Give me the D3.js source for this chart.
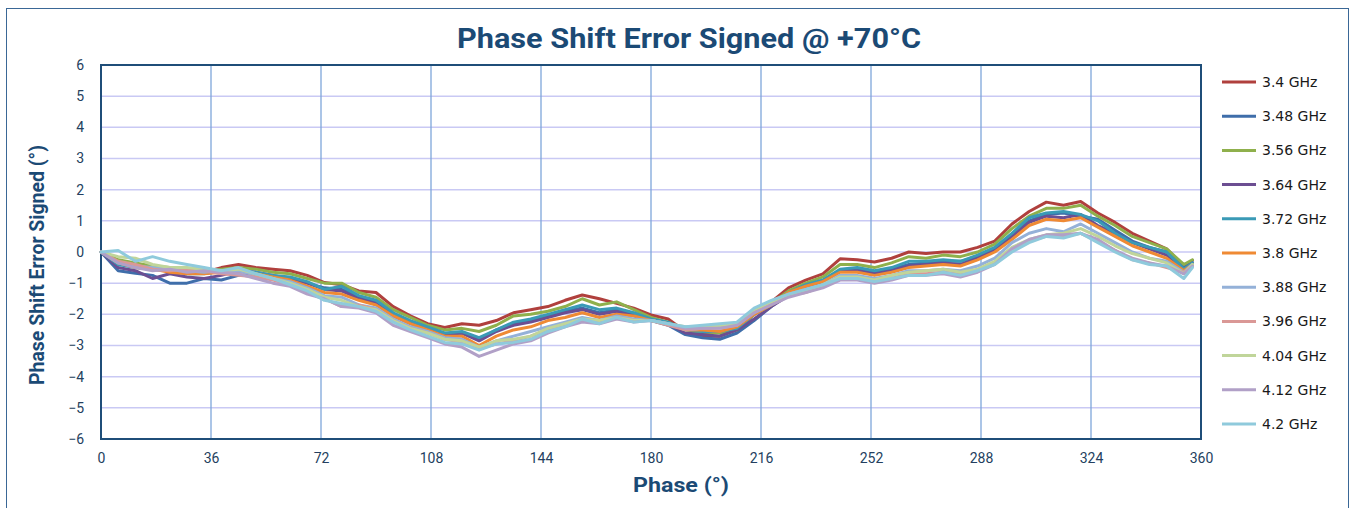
<!DOCTYPE html>
<html>
<head>
<meta charset="utf-8">
<script src="https://cdn.jsdelivr.net/npm/d3@7"></script>
<style>
  html, body { margin: 0; padding: 0; background: #fff; }
  #chart { width: 1355px; height: 508px; }
</style>
</head>
<body>
<div id="chart"></div>
<script>
// phase points (deg)
const phases = [0, 5.625, 11.25, 16.875, 22.5, 28.125, 33.75, 39.375, 45, 50.625,
  56.25, 61.875, 67.5, 73.125, 78.75, 84.375, 90, 95.625, 101.25, 106.875,
  112.5, 118.125, 123.75, 129.375, 135, 140.625, 146.25, 151.875, 157.5, 163.125,
  168.75, 174.375, 180, 185.625, 191.25, 196.875, 202.5, 208.125, 213.75, 219.375,
  225, 230.625, 236.25, 241.875, 247.5, 253.125, 258.75, 264.375, 270, 275.625,
  281.25, 286.875, 292.5, 298.125, 303.75, 309.375, 315, 320.625, 326.25, 331.875,
  337.5, 343.125, 348.75, 354.375, 357.2];

const f340 = [0, -0.3, -0.45, -0.55, -0.6, -0.6, -0.65, -0.5, -0.4, -0.5,
  -0.55, -0.6, -0.75, -0.98, -1.05, -1.25, -1.3, -1.75, -2.05, -2.3,
  -2.42, -2.3, -2.35, -2.2, -1.95, -1.85, -1.75, -1.55, -1.38, -1.5,
  -1.65, -1.8, -2.02, -2.15, -2.55, -2.7, -2.7, -2.5, -2.0, -1.6,
  -1.15, -0.9, -0.7, -0.22, -0.25, -0.32, -0.2, 0, -0.05, 0,
  0, 0.15, 0.35, 0.9, 1.3, 1.6, 1.5, 1.62, 1.25, 0.95,
  0.6, 0.35, 0.1, -0.45, -0.27];
const f348 = [0, -0.6, -0.68, -0.75, -1.0, -1.0, -0.85, -0.9, -0.75, -0.7,
  -0.8, -0.85, -1.0, -1.15, -1.2, -1.45, -1.6, -2.0, -2.25, -2.45,
  -2.65, -2.6, -2.8, -2.5, -2.3, -2.2, -2.05, -1.9, -1.8, -1.95,
  -1.85, -2.0, -2.2, -2.35, -2.65, -2.75, -2.8, -2.6, -2.2, -1.75,
  -1.35, -1.1, -0.95, -0.6, -0.55, -0.65, -0.55, -0.4, -0.35, -0.3,
  -0.3, -0.15, 0.1, 0.55, 1.0, 1.2, 1.25, 1.15, 1.05, 0.7,
  0.35, 0.15, 0, -0.5, -0.35];
const f356 = [0, -0.25, -0.35, -0.45, -0.5, -0.55, -0.65, -0.55, -0.5, -0.55,
  -0.65, -0.7, -0.85, -1.0, -1.0, -1.3, -1.45, -1.85, -2.1, -2.35,
  -2.5, -2.45, -2.55, -2.35, -2.05, -2.0, -1.9, -1.75, -1.5, -1.7,
  -1.6, -1.85, -2.1, -2.25, -2.55, -2.6, -2.6, -2.5, -2.0, -1.65,
  -1.25, -1.0, -0.8, -0.4, -0.4, -0.5, -0.35, -0.15, -0.2, -0.1,
  -0.15, 0, 0.25, 0.75, 1.15, 1.4, 1.4, 1.5, 1.15, 0.85,
  0.5, 0.3, 0.1, -0.4, -0.25];
const f364 = [0, -0.5, -0.6, -0.85, -0.7, -0.8, -0.85, -0.75, -0.6, -0.65,
  -0.75, -0.85, -1.0, -1.2, -1.25, -1.5, -1.65, -2.05, -2.3, -2.5,
  -2.65, -2.6, -2.85, -2.55, -2.35, -2.25, -2.1, -1.95, -1.85, -2.0,
  -1.9, -2.05, -2.2, -2.3, -2.6, -2.65, -2.7, -2.5, -2.15, -1.75,
  -1.4, -1.1, -0.95, -0.6, -0.6, -0.7, -0.6, -0.45, -0.4, -0.35,
  -0.4, -0.2, 0.05, 0.5, 0.95, 1.15, 1.1, 1.2, 0.85, 0.6,
  0.3, 0.1, -0.1, -0.55, -0.35];
const f372 = [0, -0.4, -0.5, -0.55, -0.6, -0.7, -0.7, -0.6, -0.6, -0.65,
  -0.75, -0.8, -0.95, -1.2, -1.1, -1.4, -1.55, -1.95, -2.2, -2.4,
  -2.6, -2.55, -2.75, -2.5, -2.25, -2.15, -2.0, -1.85, -1.7, -1.85,
  -1.8, -1.95, -2.15, -2.25, -2.5, -2.55, -2.55, -2.45, -2.0, -1.7,
  -1.3, -1.05, -0.9, -0.55, -0.5, -0.6, -0.5, -0.3, -0.3, -0.25,
  -0.3, -0.1, 0.15, 0.6, 1.1, 1.25, 1.3, 1.2, 1.0, 0.6,
  0.3, 0.15, 0, -0.55, -0.35];
const f380 = [0, -0.35, -0.5, -0.55, -0.65, -0.7, -0.7, -0.65, -0.6, -0.7,
  -0.8, -0.9, -1.1, -1.3, -1.35, -1.55, -1.7, -2.05, -2.3, -2.5,
  -2.7, -2.7, -3.0, -2.7, -2.5, -2.4, -2.2, -2.1, -1.95, -2.1,
  -2.0, -2.05, -2.2, -2.3, -2.5, -2.5, -2.55, -2.4, -2.0, -1.7,
  -1.3, -1.1, -0.95, -0.65, -0.65, -0.75, -0.65, -0.5, -0.45, -0.4,
  -0.45, -0.25, 0, 0.4, 0.85, 1.05, 1.0, 1.1, 0.8, 0.5,
  0.2, 0, -0.2, -0.6, -0.4];
const f388 = [0, -0.35, -0.45, -0.5, -0.55, -0.6, -0.65, -0.6, -0.6, -0.75,
  -0.85, -0.95, -1.15, -1.4, -1.45, -1.7, -1.8, -2.15, -2.4, -2.55,
  -2.75, -2.8, -3.05, -2.85, -2.7, -2.55, -2.4, -2.25, -2.1, -2.2,
  -2.05, -2.15, -2.2, -2.3, -2.5, -2.45, -2.4, -2.35, -1.9, -1.65,
  -1.35, -1.2, -1.05, -0.75, -0.75, -0.85, -0.75, -0.6, -0.6, -0.55,
  -0.6, -0.45, -0.2, 0.3, 0.6, 0.75, 0.65, 0.9, 0.6, 0.3,
  0, -0.2, -0.3, -0.65, -0.4];
const f396 = [0, -0.3, -0.4, -0.55, -0.6, -0.55, -0.6, -0.7, -0.75, -0.8,
  -0.9, -1.05, -1.3, -1.5, -1.75, -1.7, -1.85, -2.2, -2.45, -2.6,
  -2.8, -2.9, -3.1, -2.95, -2.85, -2.7, -2.5, -2.35, -2.2, -2.25,
  -2.1, -2.2, -2.2, -2.35, -2.5, -2.45, -2.45, -2.35, -1.95, -1.65,
  -1.4, -1.3, -1.1, -0.85, -0.85, -0.95, -0.85, -0.7, -0.7, -0.65,
  -0.7, -0.6, -0.35, 0.1, 0.35, 0.5, 0.5, 0.6, 0.35, 0.05,
  -0.25, -0.35, -0.5, -0.65, -0.45];
const f404 = [0, -0.15, -0.2, -0.4, -0.5, -0.5, -0.55, -0.6, -0.55, -0.7,
  -0.85, -1.0, -1.2, -1.45, -1.55, -1.75, -1.85, -2.2, -2.45, -2.6,
  -2.8, -2.85, -3.05, -2.85, -2.8, -2.7, -2.45, -2.3, -2.15, -2.2,
  -2.1, -2.2, -2.2, -2.3, -2.4, -2.4, -2.35, -2.3, -1.85, -1.6,
  -1.4, -1.25, -1.05, -0.8, -0.8, -0.9, -0.75, -0.65, -0.6, -0.55,
  -0.65, -0.55, -0.3, 0.15, 0.4, 0.55, 0.6, 0.75, 0.5, 0.2,
  -0.05, -0.2, -0.35, -0.7, -0.4];
const f412 = [0, -0.35, -0.5, -0.6, -0.55, -0.65, -0.6, -0.65, -0.7, -0.85,
  -1.0, -1.1, -1.35, -1.5, -1.75, -1.8, -1.95, -2.35, -2.55, -2.75,
  -2.95, -3.05, -3.35, -3.15, -2.95, -2.85, -2.6, -2.4, -2.25, -2.3,
  -2.15, -2.25, -2.2, -2.3, -2.45, -2.45, -2.45, -2.35, -1.95, -1.7,
  -1.45, -1.3, -1.15, -0.9, -0.9, -1.0, -0.9, -0.75, -0.75, -0.7,
  -0.8, -0.65, -0.4, 0.1, 0.4, 0.55, 0.55, 0.6, 0.4, 0.05,
  -0.2, -0.35, -0.45, -0.7, -0.45];
const f420 = [0, 0.05, -0.3, -0.15, -0.3, -0.4, -0.5, -0.6, -0.5, -0.7,
  -0.85, -1.05, -1.25, -1.55, -1.65, -1.75, -1.9, -2.25, -2.5, -2.7,
  -2.9, -2.95, -3.15, -2.95, -2.9, -2.8, -2.55, -2.4, -2.15, -2.3,
  -2.1, -2.25, -2.2, -2.3, -2.4, -2.35, -2.3, -2.25, -1.8, -1.55,
  -1.35, -1.2, -1.05, -0.85, -0.85, -0.95, -0.85, -0.75, -0.75, -0.65,
  -0.75, -0.6, -0.4, 0, 0.3, 0.5, 0.45, 0.6, 0.3, 0,
  -0.25, -0.4, -0.45, -0.85, -0.5];

const seriesNames = ["3.4 GHz", "3.48 GHz", "3.56 GHz", "3.64 GHz", "3.72 GHz", "3.8 GHz",
  "3.88 GHz", "3.96 GHz", "4.04 GHz", "4.12 GHz", "4.2 GHz"];
const seriesValues = [f340, f348, f356, f364, f372, f380, f388, f396, f404, f412, f420];
const seriesColors = ["#b0403d", "#3f6eaa", "#8fb04c", "#6c4e92", "#3a9ab6", "#ef8a34",
  "#94b1d8", "#da9896", "#c0d59a", "#b1a0c7", "#8fcadc"];

const xTicks = [0, 36, 72, 108, 144, 180, 216, 252, 288, 324, 360];
const yTicks = [-6, -5, -4, -3, -2, -1, 0, 1, 2, 3, 4, 5, 6];

function fitText(sel, target) {
  const len = sel.node().getComputedTextLength();
  if (len > 0) sel.attr("textLength", target).attr("lengthAdjust", "spacingAndGlyphs");
}

function draw() {
  const w = 1355, h = 508;
  const plot = { left: 101, right: 1201, top: 65, bottom: 439 };

  const svg = d3.select("#chart").append("svg")
    .attr("width", w).attr("height", h)
    .attr("viewBox", `0 0 ${w} ${h}`);

  svg.append("rect").attr("width", w).attr("height", h).attr("fill", "#fff");
  svg.append("rect")
    .attr("x", 6.5).attr("y", 8.5).attr("width", 1342).attr("height", 520)
    .attr("fill", "none").attr("stroke", "#3a6796").attr("stroke-width", 1);

  const x = d3.scaleLinear().domain([0, 360]).range([plot.left, plot.right]);
  const y = d3.scaleLinear().domain([-6, 6]).range([plot.bottom, plot.top]);

  // grid
  svg.append("g")
    .selectAll("line")
    .data(yTicks.slice(1, -1))
    .join("line")
    .attr("x1", plot.left).attr("x2", plot.right)
    .attr("y1", d => y(d)).attr("y2", d => y(d))
    .attr("stroke", "#c9c9f4").attr("stroke-width", 1.5);

  svg.append("g")
    .selectAll("line")
    .data(xTicks.slice(1, -1))
    .join("line")
    .attr("x1", d => x(d)).attr("x2", d => x(d))
    .attr("y1", plot.top).attr("y2", plot.bottom)
    .attr("stroke", "#7ea6da").attr("stroke-width", 1.3);

  svg.append("rect")
    .attr("x", plot.left).attr("y", plot.top)
    .attr("width", plot.right - plot.left).attr("height", plot.bottom - plot.top)
    .attr("fill", "none").attr("stroke", "#1f4e79").attr("stroke-width", 2);

  // axes
  const xAxis = svg.append("g")
    .attr("transform", `translate(0,${plot.bottom})`)
    .call(d3.axisBottom(x).tickValues(xTicks).tickSize(0).tickPadding(14));
  const yAxis = svg.append("g")
    .attr("transform", `translate(${plot.left},0)`)
    .call(d3.axisLeft(y).tickValues(yTicks).tickSize(0).tickPadding(17));

  [xAxis, yAxis].forEach(a => {
    a.select(".domain").remove();
    a.selectAll("text")
      .attr("fill", "#243f60")
      .style("font-family", "Roboto, 'Open Sans', sans-serif")
      .style("font-size", "14px");
  });

  // lines
  const line = d3.line()
    .x((d, i) => x(phases[i]))
    .y(d => y(d));

  svg.append("g")
    .selectAll("path")
    .data(seriesValues)
    .join("path")
    .attr("d", d => line(d))
    .attr("fill", "none")
    .attr("stroke", (d, i) => seriesColors[i])
    .attr("stroke-width", 3)
    .attr("stroke-linejoin", "round")
    .attr("stroke-linecap", "round");

  // titles
  const title = svg.append("text")
    .attr("x", 689).attr("y", 48)
    .attr("text-anchor", "middle")
    .attr("fill", "#1b4a75")
    .style("font-family", "Roboto, 'Open Sans', sans-serif")
    .style("font-weight", "bold")
    .style("font-size", "28px")
    .text("Phase Shift Error Signed @ +70°C");
  fitText(title, 464);

  const xTitle = svg.append("text")
    .attr("x", 681).attr("y", 492)
    .attr("text-anchor", "middle")
    .attr("fill", "#1b4a75")
    .style("font-family", "Roboto, 'Open Sans', sans-serif")
    .style("font-weight", "bold")
    .style("font-size", "21px")
    .text("Phase (°)");
  fitText(xTitle, 96);

  const yTitle = svg.append("text")
    .attr("transform", "translate(44,265) rotate(-90)")
    .attr("text-anchor", "middle")
    .attr("fill", "#1b4a75")
    .style("font-family", "Roboto, 'Open Sans', sans-serif")
    .style("font-weight", "bold")
    .style("font-size", "21px")
    .text("Phase Shift Error Signed (°)");
  fitText(yTitle, 240);

  // legend
  const legend = svg.append("g")
    .selectAll("g")
    .data(seriesNames)
    .join("g")
    .attr("transform", (d, i) => `translate(1222,${82 + i * 34.2})`);

  legend.append("line")
    .attr("x1", 0).attr("x2", 34)
    .attr("stroke", (d, i) => seriesColors[i])
    .attr("stroke-width", 3);

  legend.append("text")
    .attr("x", 40).attr("dy", "0.35em")
    .attr("fill", "#1a1a1a")
    .style("font-family", "'DejaVu Sans', Verdana, sans-serif")
    .style("font-size", "14px")
    .text(d => d);
}

draw();
</script>
</body>
</html>
